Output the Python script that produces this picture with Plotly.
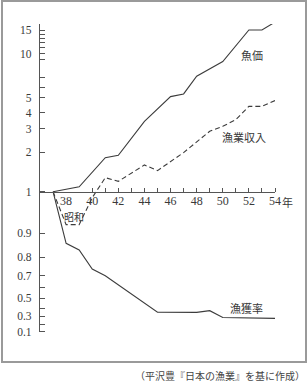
import numpy as np
import plotly.graph_objects as go

# ---- data (Showa years) ----
YEARS_PRICE = [37, 39, 41, 42, 44, 46, 47, 48, 50, 52, 53, 54]
FISH_PRICE = [1.0, 1.09, 1.82, 1.90, 3.42, 5.08, 5.32, 7.07, 8.68, 15.0, 15.0, 17.2]

YEARS_INCOME = [37, 38, 39, 40, 41, 42, 44, 45, 47, 49, 50, 51, 52, 53, 54]
FISHING_INCOME = [1.0, 0.92, 0.92, 0.985, 1.28, 1.20, 1.60, 1.45, 1.99, 2.87, 3.13, 3.53, 4.39, 4.39, 4.78]

YEARS_CATCH = [37, 38, 39, 40, 41, 45, 48, 49, 50, 54]
CATCH_RATE = [1.0, 0.857, 0.829, 0.735, 0.70, 0.346, 0.343, 0.366, 0.279, 0.266]

X_LABEL_YEARS = [38, 40, 42, 44, 46, 48, 50, 52, 54]
X_TICK_YEARS = list(range(40, 55))
Y_LABEL_VALUES = [0.1, 0.3, 0.5, 0.7, 0.8, 0.9, 1, 2, 3, 4, 5, 10, 15]
Y_LABEL_TEXT = ["0.1", "0.3", "0.5", "0.7", "0.8", "0.9", "1", "2", "3", "4", "5", "10", "15"]
Y_TICK_VALUES = [0.1, 0.2, 0.3, 0.4, 0.5, 0.6, 0.7, 0.8, 0.9, 1, 2, 3, 4, 5, 6, 7, 9, 10, 11, 12, 13, 14, 15]

# ---- hand-drawn value scale of the original figure (value -> height above the "1" line) ----
SCALE_VALUES = [0.1, 0.2, 0.3, 0.4, 0.5, 0.6, 0.7, 0.8, 0.9, 1, 2, 3, 4, 5, 6, 7, 9, 10, 15, 20]
SCALE_HEIGHT = [-140.0, -132.3, -124.3, -116.6, -106.6, -95.6, -84.0, -65.6, -41.6, 0.0,
                39.4, 63.0, 79.0, 94.2, 104.7, 114.7, 132.7, 138.2, 161.7, 178.3]


def scale(v):
    return np.interp(np.log10(np.asarray(v, dtype=float)), np.log10(SCALE_VALUES), SCALE_HEIGHT)


W, H = 308, 382
ML, MR, MT, MB = 40, 33, 24, 50
PW, PH = W - ML - MR, H - MT - MB


def px(x):
    return (x - ML) / PW


def py(y):
    return (H - MB - y) / PH


LINE = "#3c3c3c"
TXT = "#3a3a3a"
SERIF = "Liberation Serif"
CJK = "Noto Sans CJK JP"

fig = go.Figure()
fig.add_trace(go.Scatter(x=YEARS_PRICE, y=scale(FISH_PRICE), mode="lines",
                         line=dict(color=LINE, width=1.1), cliponaxis=False, name="魚価"))
fig.add_trace(go.Scatter(x=YEARS_INCOME, y=scale(FISHING_INCOME), mode="lines",
                         line=dict(color=LINE, width=1.1, dash="5px,3px"), cliponaxis=False, name="漁業収入"))
fig.add_trace(go.Scatter(x=YEARS_CATCH, y=scale(CATCH_RATE), mode="lines",
                         line=dict(color=LINE, width=1.1), cliponaxis=False, name="漁獲率"))

one_pos = (0 - (-140.3)) / (167.7 - (-140.3))

fig.update_layout(
    width=W, height=H,
    margin=dict(l=ML, r=MR, t=MT, b=MB, pad=0),
    paper_bgcolor="white", plot_bgcolor="white",
    showlegend=False,
    xaxis=dict(range=[36, 54], anchor="free", position=one_pos,
               showline=True, linecolor="#555", linewidth=1.2,
               showgrid=False, zeroline=False, automargin=False,
               tickmode="array", tickvals=X_LABEL_YEARS, ticktext=[str(v) for v in X_LABEL_YEARS],
               ticks="", ticklabelstandoff=-2,
               tickfont=dict(family=SERIF, size=12, color=TXT),
               minor=dict(tickmode="array", tickvals=X_TICK_YEARS, ticks="inside",
                          ticklen=4, tickcolor="#555", tickwidth=1)),
    yaxis=dict(range=[-140.3, 167.7], showline=True, linecolor="#555", linewidth=1.2,
               showgrid=False, zeroline=False, automargin=False,
               tickmode="array", tickvals=list(scale(Y_LABEL_VALUES)), ticktext=Y_LABEL_TEXT,
               ticks="", ticklabelstandoff=5,
               tickfont=dict(family=SERIF, size=11.5, color=TXT),
               minor=dict(tickmode="array", tickvals=list(scale(Y_TICK_VALUES)), ticks="inside",
                          ticklen=5, tickcolor="#555", tickwidth=1)),
)

# frame
fig.add_shape(type="rect", xref="paper", yref="paper",
              x0=px(2), x1=px(306), y0=py(362), y1=py(1),
              line=dict(color="#9a9a9a", width=2), layer="below")

notes = [
    ("魚価", 252, 55, 11),
    ("漁業収入", 244, 137, 11),
    ("漁獲率", 246, 308, 11),
    ("昭和", 74, 216, 10),
    ("年", 287, 202, 11),
]
for t, x, y, s in notes:
    fig.add_annotation(text=t, xref="paper", yref="paper", x=px(x), y=py(y),
                       showarrow=False, xanchor="center", yanchor="middle",
                       font=dict(family=CJK, size=s, color=TXT))

fig.add_annotation(text="（平沢豊『日本の漁業』を基に作成）", xref="paper", yref="paper",
                   x=px(307), y=py(375), xanchor="right", yanchor="middle", showarrow=False,
                   font=dict(family=CJK, size=10, color="#444"))

fig.write_html("out.html")
